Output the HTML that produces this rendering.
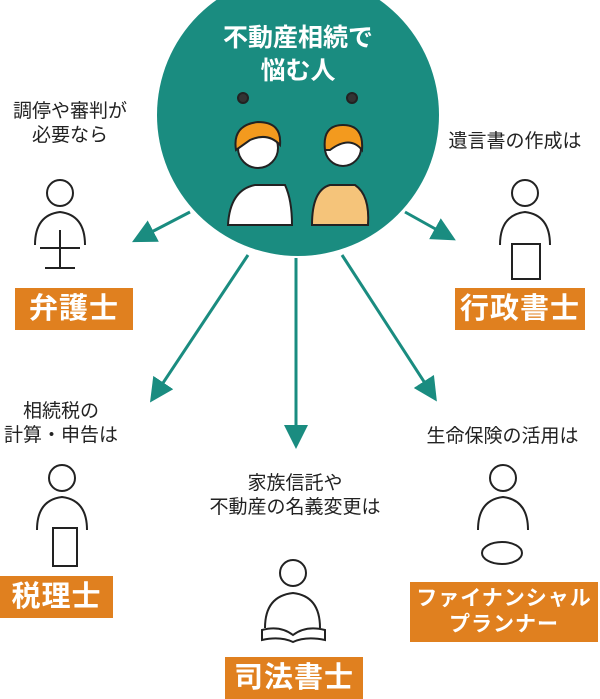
<!DOCTYPE html>
<html><head><meta charset="utf-8"><style>
body{margin:0;width:600px;height:699px;background:#fff;overflow:hidden;position:relative;font-family:"Liberation Sans","Noto Sans CJK JP",sans-serif}
.t{position:absolute;color:#222;font-size:19px;line-height:24px;text-align:center;white-space:nowrap}
.b{position:absolute;background:#e0801f;color:#fff;font-weight:bold;font-size:29px;text-align:center;line-height:42px;letter-spacing:1px}
</style></head><body>
<svg width="600" height="699" style="position:absolute;left:0;top:0">
<defs><marker id="a" markerWidth="8" markerHeight="8" refX="5" refY="4" orient="auto" markerUnits="strokeWidth"><path d="M0,0L8,4L0,8z" fill="#1a8c80"/></marker></defs>
<circle cx="298" cy="115" r="141" fill="#1a8c80"/>
<g stroke="#1a8c80" stroke-width="3" fill="none" marker-end="url(#a)">
<line x1="190" y1="212" x2="140" y2="238"/>
<line x1="405" y1="212" x2="448" y2="236"/>
<line x1="248" y1="255" x2="155" y2="395"/>
<line x1="296" y1="258" x2="296" y2="440"/>
<line x1="342" y1="255" x2="432" y2="394"/>
</g>
<g stroke="#222" stroke-width="2">
<path d="M228,225 Q230,190 255,185 L285,185 Q292,200 292,225 Z" fill="#fff"/>
<circle cx="258" cy="148" r="20" fill="#fff"/>
<path d="M236,150 Q232,125 258,122 Q282,122 280,145 Q268,132 250,140 Z" fill="#f39a1e"/>
<path d="M312,225 Q312,190 330,185 L355,185 Q370,195 368,225 Z" fill="#f5c47a"/>
<circle cx="343" cy="148" r="18" fill="#fff"/>
<path d="M325,150 Q322,125 343,125 Q364,125 362,150 Q350,135 330,150 Z" fill="#f39a1e"/>
<circle cx="243" cy="98" r="5" fill="#333"/><circle cx="352" cy="98" r="5" fill="#333"/>
</g>
<g stroke="#222" stroke-width="2" fill="none">
<circle cx="60" cy="193" r="13"/><path d="M35,245 Q35,215 60,212 Q85,215 85,245"/><path d="M40,248 L80,248 M60,230 L60,268 M45,268 L75,268"/>
<circle cx="525" cy="193" r="13"/><path d="M500,245 Q500,215 525,212 Q550,215 550,245"/><rect x="512" y="244" width="28" height="35" fill="#fff"/>
<circle cx="62" cy="478" r="13"/><path d="M37,530 Q37,500 62,497 Q87,500 87,530"/><rect x="53" y="528" width="24" height="38" fill="#fff"/>
<circle cx="293" cy="573" r="13"/><path d="M265,628 Q265,596 293,593 Q320,596 320,628"/><path d="M262,630 Q280,625 293,635 Q306,625 325,630 L325,640 Q306,636 293,642 Q280,636 262,640Z" fill="#fff"/>
<circle cx="503" cy="478" r="13"/><path d="M478,530 Q478,500 503,497 Q528,500 528,530"/><ellipse cx="502" cy="553" rx="20" ry="11" fill="#fff"/>
</g>
</svg>
<div class="t" style="left:183px;top:22px;width:230px;color:#fff;font-weight:bold;font-size:25px;line-height:33px">不動産相続で<br>悩む人</div>
<div class="t" style="left:5px;top:100px;width:130px">調停や審判が<br>必要なら</div>
<div class="t" style="left:440px;top:130px;width:150px">遺言書の作成は</div>
<div class="t" style="left:0;top:400px;width:122px">相続税の<br>計算・申告は</div>
<div class="t" style="left:185px;top:472px;width:220px">家族信託や<br>不動産の名義変更は</div>
<div class="t" style="left:410px;top:425px;width:185px">生命保険の活用は</div>
<div class="b" style="left:15px;top:288px;width:118px">弁護士</div>
<div class="b" style="left:455px;top:288px;width:130px">行政書士</div>
<div class="b" style="left:0;top:576px;width:113px">税理士</div>
<div class="b" style="left:225px;top:657px;width:138px">司法書士</div>
<div class="b" style="left:410px;top:582px;width:188px;height:60px;font-size:21px;line-height:26px;padding-top:4px;box-sizing:border-box">ファイナンシャル<br>プランナー</div>
</body></html>
